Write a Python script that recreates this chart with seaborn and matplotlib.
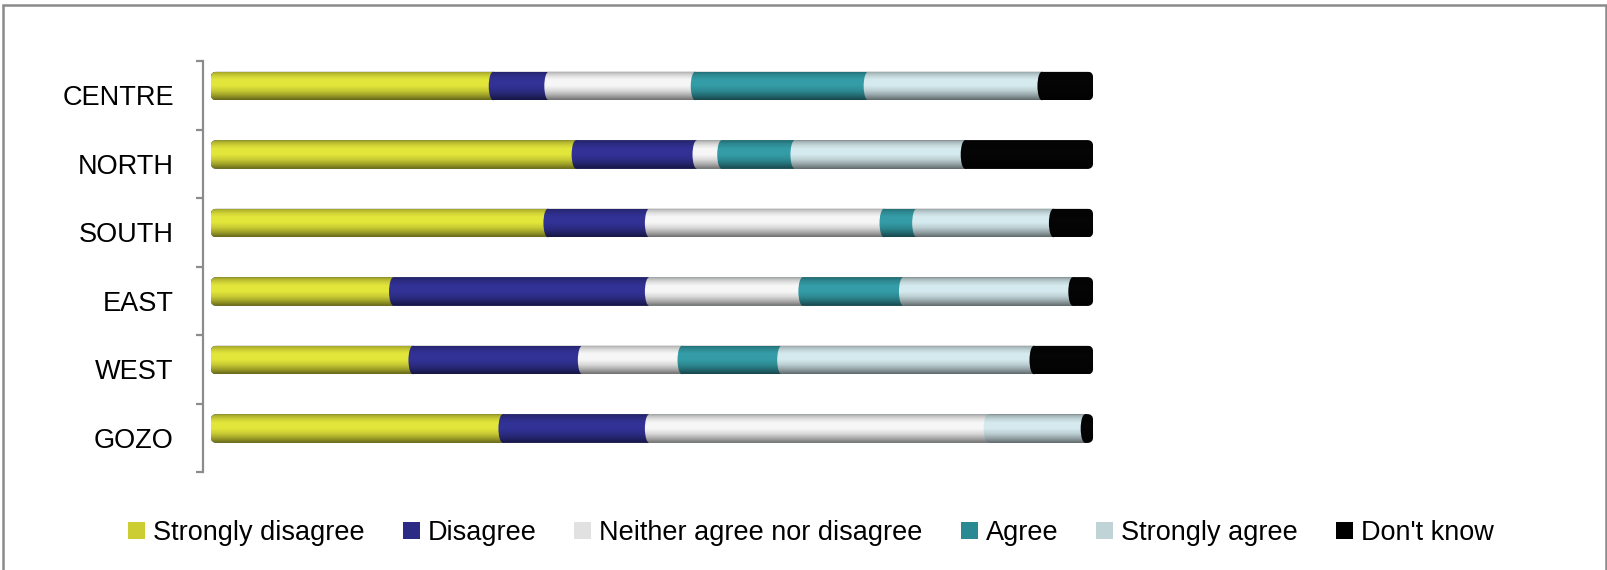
import numpy as np
import pandas as pd
import matplotlib
matplotlib.use("Agg")
import matplotlib.pyplot as plt
from matplotlib.patches import Patch, Rectangle, FancyBboxPatch, Ellipse
import seaborn as sns

# Survey responses by region (% of respondents)
regions = ["CENTRE", "NORTH", "SOUTH", "EAST", "WEST", "GOZO"]
responses = ["Strongly disagree", "Disagree", "Neither agree nor disagree",
             "Agree", "Strongly agree", "Don't know"]
strongly_disagree = [32.0, 41.4, 38.2, 20.7, 22.9, 33.1]
disagree          = [6.3, 13.7, 11.5, 29.0, 19.2, 16.6]
neither           = [16.6, 2.8, 26.6, 17.4, 11.3, 38.4]
agree             = [19.6, 8.3, 3.7, 11.4, 11.3, 0.0]
strongly_agree    = [19.7, 19.3, 15.5, 19.2, 28.6, 11.0]
dont_know         = [5.8, 14.5, 4.5, 2.3, 6.7, 0.9]

bar_colors = ["#E2E53A", "#323296", "#F6F6F6", "#349CA6", "#D5EAEE", "#050505"]
key_colors = ["#CCCC33", "#2B2B86", "#E1E1E1", "#2A8A94", "#C0D4D8", "#000000"]

series = [strongly_disagree, disagree, neither, agree, strongly_agree, dont_know]
df = pd.DataFrame(dict(zip(responses, series)), index=regions)
cum = df.cumsum(axis=1)

sns.set_theme(style="white")
plt.rcParams["font.family"] = ["Liberation Sans", "DejaVu Sans"]
plt.rcParams["text.color"] = "black"
plt.rcParams["ytick.labelcolor"] = "black"
FS = 19.5

fig = plt.figure(figsize=(16.08, 5.70), dpi=100)
ax = fig.add_axes([203 / 1608, 1 - 472 / 570, 891 / 1608, 411 / 570])

BAR_H = 0.42
# Stacked bars: draw cumulative totals from the outermost category inwards
for resp, col in reversed(list(zip(responses, bar_colors))):
    sns.barplot(x=cum[resp].values, y=regions, orient="h", color=col,
                width=BAR_H, saturation=1, linewidth=0, ax=ax)

XMIN, XMAX = -0.9, 100.1
YTOP, YBOT = -0.365, 5.635
ax.set_xlim(XMIN, XMAX)
ax.set_ylim(YBOT, YTOP)

px_x = 891 / (XMAX - XMIN)
px_y = 411 / (YBOT - YTOP)
rad_px = 6.0
cap_px = 9.0

# vertical shading profile of a cylinder (top -> bottom)
t = np.linspace(0, 1, 64)
alpha = np.interp(t, [0, 0.06, 0.18, 0.3, 0.5, 0.68, 0.85, 1.0],
                     [0.35, 0.22, 0.08, 0.0, 0.0, 0.12, 0.32, 0.55])
shade = np.zeros((len(t), 1, 4))
shade[..., 3] = alpha[:, None]

bars = [p for p in ax.patches if isinstance(p, Rectangle)]
outlines = []
for i, reg in enumerate(regions):
    total = cum.loc[reg].iloc[-1]
    y0, y1 = i - BAR_H / 2, i + BAR_H / 2
    clip = FancyBboxPatch((0, y0), total, BAR_H,
                          boxstyle=f"round,pad=0,rounding_size={rad_px / px_x}",
                          mutation_aspect=(px_x / px_y),
                          transform=ax.transData, facecolor="none", edgecolor="none")
    ax.add_patch(clip)
    outlines.append(clip)
    # elliptical face where each segment meets the previous one
    for k in range(1, len(responses)):
        if df.loc[reg].iloc[k] <= 0:
            continue
        e = Ellipse((cum.loc[reg].iloc[k - 1], i), cap_px / px_x, BAR_H,
                    facecolor=bar_colors[k], edgecolor="none", zorder=3)
        ax.add_patch(e)
        e.set_clip_path(clip)
    img = ax.imshow(shade, extent=(0, total, y1, y0), origin="upper",
                    aspect="auto", interpolation="bilinear", zorder=5)
    img.set_clip_path(clip)

for p in bars:
    row = int(round(p.get_y() + p.get_height() / 2))
    p.set_clip_path(outlines[row])

ax.set_xlim(XMIN, XMAX)
ax.set_ylim(YBOT, YTOP)

# Axis styling: left bracket only
for s in ["top", "right", "bottom"]:
    ax.spines[s].set_visible(False)
ax.spines["left"].set_color("#8C8C8C")
ax.spines["left"].set_linewidth(1.6)
ax.set_xticks([])
ax.set_yticks(np.arange(len(regions)) + 0.135)
ax.set_yticklabels(regions, fontsize=FS, color="black")
ax.set_yticks(np.arange(len(regions) + 1) + YTOP, minor=True)
ax.tick_params(axis="y", which="major", length=0, pad=21)
ax.tick_params(axis="y", which="minor", length=5, width=1.6, color="#8C8C8C", left=True)
ax.set_xlabel("")
ax.set_ylabel("")

em = FS * 100 / 72
handles = [Patch(facecolor=c, edgecolor="none") for c in key_colors]
leg = fig.legend(handles, responses, loc="center", bbox_to_anchor=(811 / 1608, 1 - 533 / 570),
                 ncol=6, frameon=False, fontsize=FS, handlelength=17 / em, handleheight=17 / em,
                 handletextpad=8 / em, columnspacing=38 / em, borderaxespad=0, borderpad=0)
for txt in leg.get_texts():
    txt.set_color("black")

# Chart frame
fig.patches.append(Rectangle((3 / 1608, -0.02), 1603 / 1608, 1 - 5 / 570 + 0.02,
                             transform=fig.transFigure, fill=False,
                             edgecolor="#8A8A8A", linewidth=1.8))

fig.savefig("out.png", dpi=100, facecolor="white")
